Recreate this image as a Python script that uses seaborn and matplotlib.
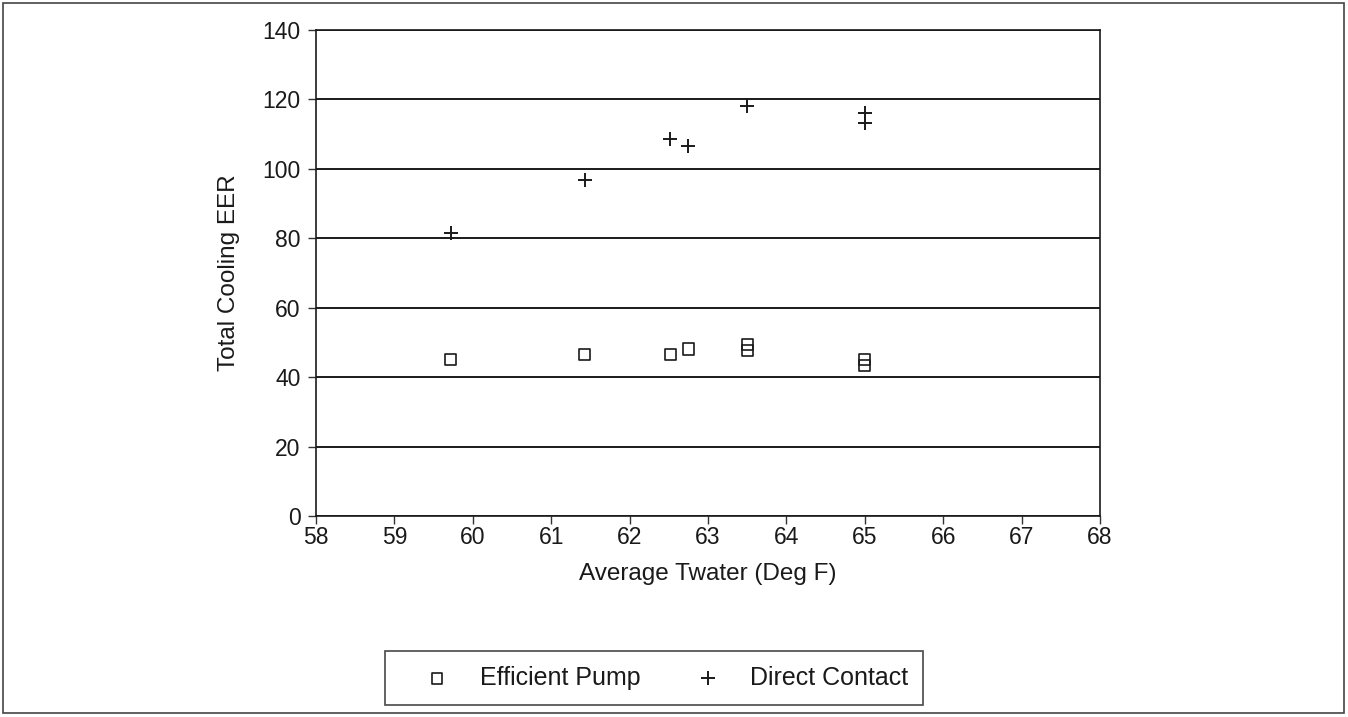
import matplotlib
matplotlib.use("Agg")
import matplotlib.pyplot as plt
import seaborn as sns
import pandas as pd
from matplotlib.patches import Rectangle

# Data
pump_x = [59.72, 61.43, 62.52, 62.75, 63.5, 63.5, 65.0, 65.0]
pump_y = [45.0, 46.6, 46.4, 48.1, 49.4, 47.8, 45.0, 43.3]
contact_x = [59.72, 61.43, 62.52, 62.75, 63.5, 65.0, 65.0]
contact_y = [81.5, 96.8, 108.5, 106.5, 118.0, 116.2, 113.1]
x_ticks = [58, 59, 60, 61, 62, 63, 64, 65, 66, 67, 68]
y_ticks = [0, 20, 40, 60, 80, 100, 120, 140]

sns.set_theme(style="white")
plt.rcParams['font.family'] = ['Liberation Sans', 'DejaVu Sans']

fig = plt.figure(figsize=(13.48, 7.17), dpi=100)
ax = fig.add_axes([316/1348, 1-516/717, (1100-316)/1348, (516-30)/717])

pump = pd.DataFrame({"x": pump_x, "y": pump_y})
contact = pd.DataFrame({"x": contact_x, "y": contact_y})

sns.scatterplot(data=pump, x="x", y="y", ax=ax, marker="s", s=64,
                facecolors="none", edgecolor="#1a1a1a", linewidth=1.2,
                label="Efficient Pump", zorder=3)
sns.scatterplot(data=contact, x="x", y="y", ax=ax, marker="+", s=100,
                color="#1a1a1a", linewidth=1.4, label="Direct Contact", zorder=3)

ax.set_xlim(58, 68)
ax.set_ylim(0, 140)
ax.set_xticks(x_ticks)
ax.set_yticks(y_ticks)
ax.set_xticklabels([str(t) for t in x_ticks])
ax.set_yticklabels([str(t) for t in y_ticks])
ax.tick_params(axis="both", which="both", direction="out", length=6, width=1,
               color="#333333", labelsize=16.5, labelcolor="#1a1a1a",
               left=True, bottom=True)
ax.tick_params(axis="y", pad=5)
ax.tick_params(axis="x", pad=1)
ax.yaxis.grid(True, color="#1a1a1a", linewidth=1.4)
ax.xaxis.grid(False)
for sp in ax.spines.values():
    sp.set_visible(True)
    sp.set_color("#1a1a1a")
    sp.set_linewidth(1.2)

ax.set_xlabel("Average Twater (Deg F)", fontsize=17.5, color="#1a1a1a", labelpad=10)
ax.set_ylabel("Total Cooling EER", fontsize=17.5, color="#1a1a1a", labelpad=16)

ax.legend_.remove()
handles, labels = ax.get_legend_handles_labels()
leg = fig.legend(handles, labels, loc="center", bbox_to_anchor=(654/1348, 1-678/717),
                 ncol=2, fontsize=18, frameon=True, fancybox=False,
                 edgecolor="#1a1a1a", borderpad=0.6, columnspacing=1.2,
                 handlelength=3.0, handletextpad=0.2, markerscale=0.95,
                 borderaxespad=0)
leg.get_frame().set_linewidth(1.2)
for t in leg.get_texts():
    t.set_color("#1a1a1a")

fig.patches.append(Rectangle((3/1348, 4/717), 1-7/1348, 1-7/717,
                             transform=fig.transFigure, fill=False,
                             edgecolor="#444444", linewidth=1.2))

fig.savefig("out.png", dpi=100, facecolor="white")
